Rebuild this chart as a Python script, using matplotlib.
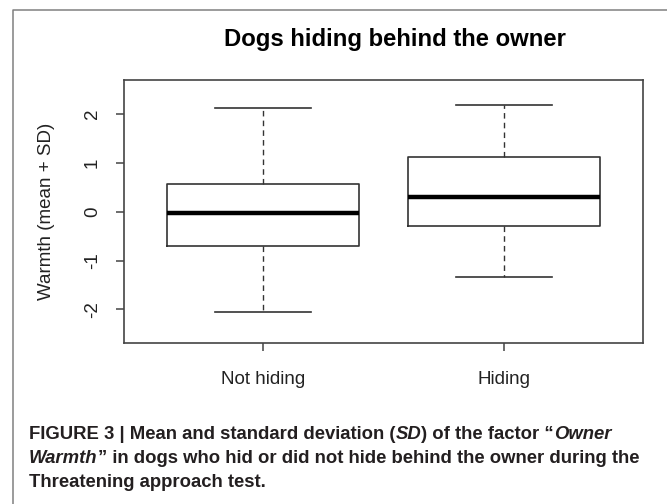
import matplotlib
matplotlib.use("Agg")
import matplotlib.pyplot as plt
from matplotlib.lines import Line2D

# data
groups = ["Not hiding", "Hiding"]
whis_lo = [-2.06, -1.34]
q1 = [-0.70, -0.29]
median = [-0.02, 0.30]
q3 = [0.57, 1.12]
whis_hi = [2.13, 2.18]
yticks = [-2, -1, 0, 1, 2]

W, H = 667, 504
fig = plt.figure(figsize=(W / 100, H / 100), dpi=100)
fig.patch.set_facecolor("white")

plt.rcParams["font.family"] = ["Liberation Sans", "DejaVu Sans"]

# plot region in pixels: x 124..643, y 80..343
ax = fig.add_axes([124 / W, 1 - 343 / H, (643 - 124) / W, (343 - 80) / H])

stats = []
for i, g in enumerate(groups):
    stats.append(dict(label=g, whislo=whis_lo[i], q1=q1[i], med=median[i],
                      q3=q3[i], whishi=whis_hi[i], fliers=[]))

line_col = "#333333"
ax.bxp(stats, positions=[1, 2], widths=0.8, capwidths=0.4, showfliers=False,
       boxprops=dict(color=line_col, linewidth=1.2),
       medianprops=dict(color="black", linewidth=3.2),
       whiskerprops=dict(color=line_col, linewidth=1.0, linestyle=(0, (4, 3))),
       capprops=dict(color=line_col, linewidth=1.2))

ax.set_xlim(0.42, 2.58)
ax.set_ylim(-2.69, 2.70)
for s in ax.spines.values():
    s.set_color("#444444")
    s.set_linewidth(1.2)

ax.set_yticks(yticks)
ax.set_yticklabels([str(v) for v in yticks], rotation=90, va="center")
ax.set_xticks([1, 2])
ax.set_xticklabels(groups)
ax.tick_params(axis="both", length=5.5, width=1.1, color="#444444",
               labelsize=13.5, labelcolor="#222222")
ax.tick_params(axis="y", pad=11)
ax.tick_params(axis="x", pad=15)

fig.text(47 / W, 1 - 211.5 / H, "Warmth (mean + SD)", rotation=90,
         ha="center", va="center", fontsize=13.5, color="#222222")
fig.text(395 / W, 1 - 46 / H, "Dogs hiding behind the owner", ha="center",
         va="baseline", fontsize=17.2, fontweight="bold", color="black")

# outer panel frame (left and top edges only)
fx, fy = 13.5 / W, 1 - 10 / H
fig.add_artist(Line2D([fx, fx, 1], [0, fy, fy], transform=fig.transFigure,
                      color="#808080", linewidth=1.1))

# caption with mixed bold / bold italic pieces
cap_font = ["Liberation Sans Narrow", "Liberation Sans"]
cap_size = 13.3
cap_col = "#231f20"
caption = [
    [("FIGURE 3 | Mean and standard deviation (", "normal"), ("SD", "italic"),
     (") of the factor \u201c", "normal"), ("Owner", "italic")],
    [("Warmth", "italic"),
     ("\u201d in dogs who hid or did not hide behind the owner during the", "normal")],
    [("Threatening approach test.", "normal")],
]
baselines = [439, 463, 487]

fig.canvas.draw()
renderer = fig.canvas.get_renderer()
for parts, yb in zip(caption, baselines):
    x = 29 / W
    for txt, style in parts:
        t = fig.text(x, 1 - yb / H, txt, ha="left", va="baseline",
                     fontsize=cap_size, fontweight="bold", fontstyle=style,
                     family=cap_font, color=cap_col)
        bb = t.get_window_extent(renderer)
        x = bb.x1 / W

fig.savefig("out.png", dpi=100)
